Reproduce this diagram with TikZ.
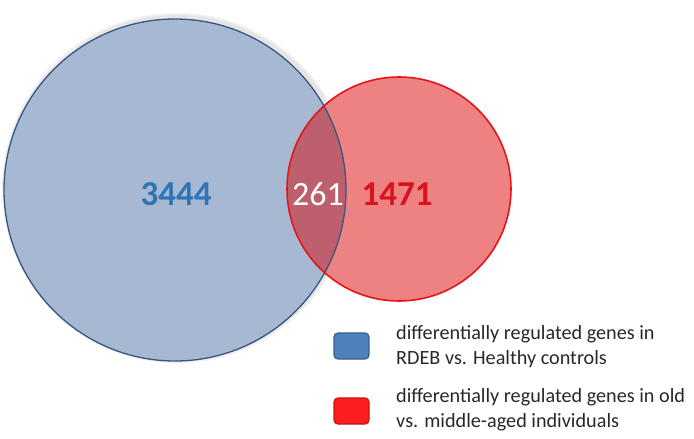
\documentclass[tikz,border=0pt]{standalone}
\usepackage{fontspec}
\setmainfont{Carlito}
\definecolor{bfill}{RGB}{167,185,210}
\definecolor{bline}{RGB}{56,86,126}
\definecolor{rfill}{RGB}{238,130,130}
\definecolor{rline}{RGB}{230,20,25}
\definecolor{ifill}{RGB}{190,95,110}
\definecolor{bnum}{RGB}{46,117,182}
\definecolor{rnum}{RGB}{215,20,30}
\definecolor{lblue}{RGB}{79,129,189}
\definecolor{lblueline}{RGB}{56,93,138}
\definecolor{lred}{RGB}{250,30,30}
\definecolor{lredline}{RGB}{200,20,20}
\definecolor{txt}{RGB}{40,40,40}
\tikzset{
  num/.style={font=\fontsize{35}{35}\selectfont\bfseries, inner sep=0pt},
  legbox/.style={rounded corners=4pt, minimum width=35pt, minimum height=26pt, line width=1.2pt, inner sep=0pt},
  legtext/.style={font=\fontsize{20.2}{25}\selectfont, text=txt, align=left, anchor=west, inner sep=0pt}
}
\begin{document}
\begin{tikzpicture}[x=1pt,y=-1pt]
\useasboundingbox (0,0) rectangle (694,439);
% soft shadow
\fill[black!6] (177,188) circle (175);
\fill[black!10] (177,188) circle (173);
% blue circle
\fill[bfill] (175,190) circle (171);
% red circle
\fill[rfill] (399,189) circle (112);
% intersection
\begin{scope}
\clip (175,190) circle (171);
\fill[ifill] (399,189) circle (112);
\end{scope}
\draw[bline, line width=1.3pt] (175,190) circle (171);
\draw[rline, line width=1.6pt] (399,189) circle (112);
% numbers
\node[num, text=bnum] (n1) at (176,194) {3444};
\node[num, text=white, font=\fontsize{34}{34}\selectfont] (n2) at (318,194) {261};
\node[num, text=rnum] (n3) at (397,194) {1471};
% legend
\node[legbox, fill=lblue, draw=lblueline] (b1) at (351.5,346) {};
\node[legbox, fill=lred, draw=lredline] (b2) at (351.5,411) {};
\node[legtext] (t1) at (396,347) {differentially regulated genes in\\RDEB vs. Healthy controls};
\node[legtext] (t2) at (396,410) {differentially regulated genes in old\\vs. middle-aged individuals};
\end{tikzpicture}
\end{document}
